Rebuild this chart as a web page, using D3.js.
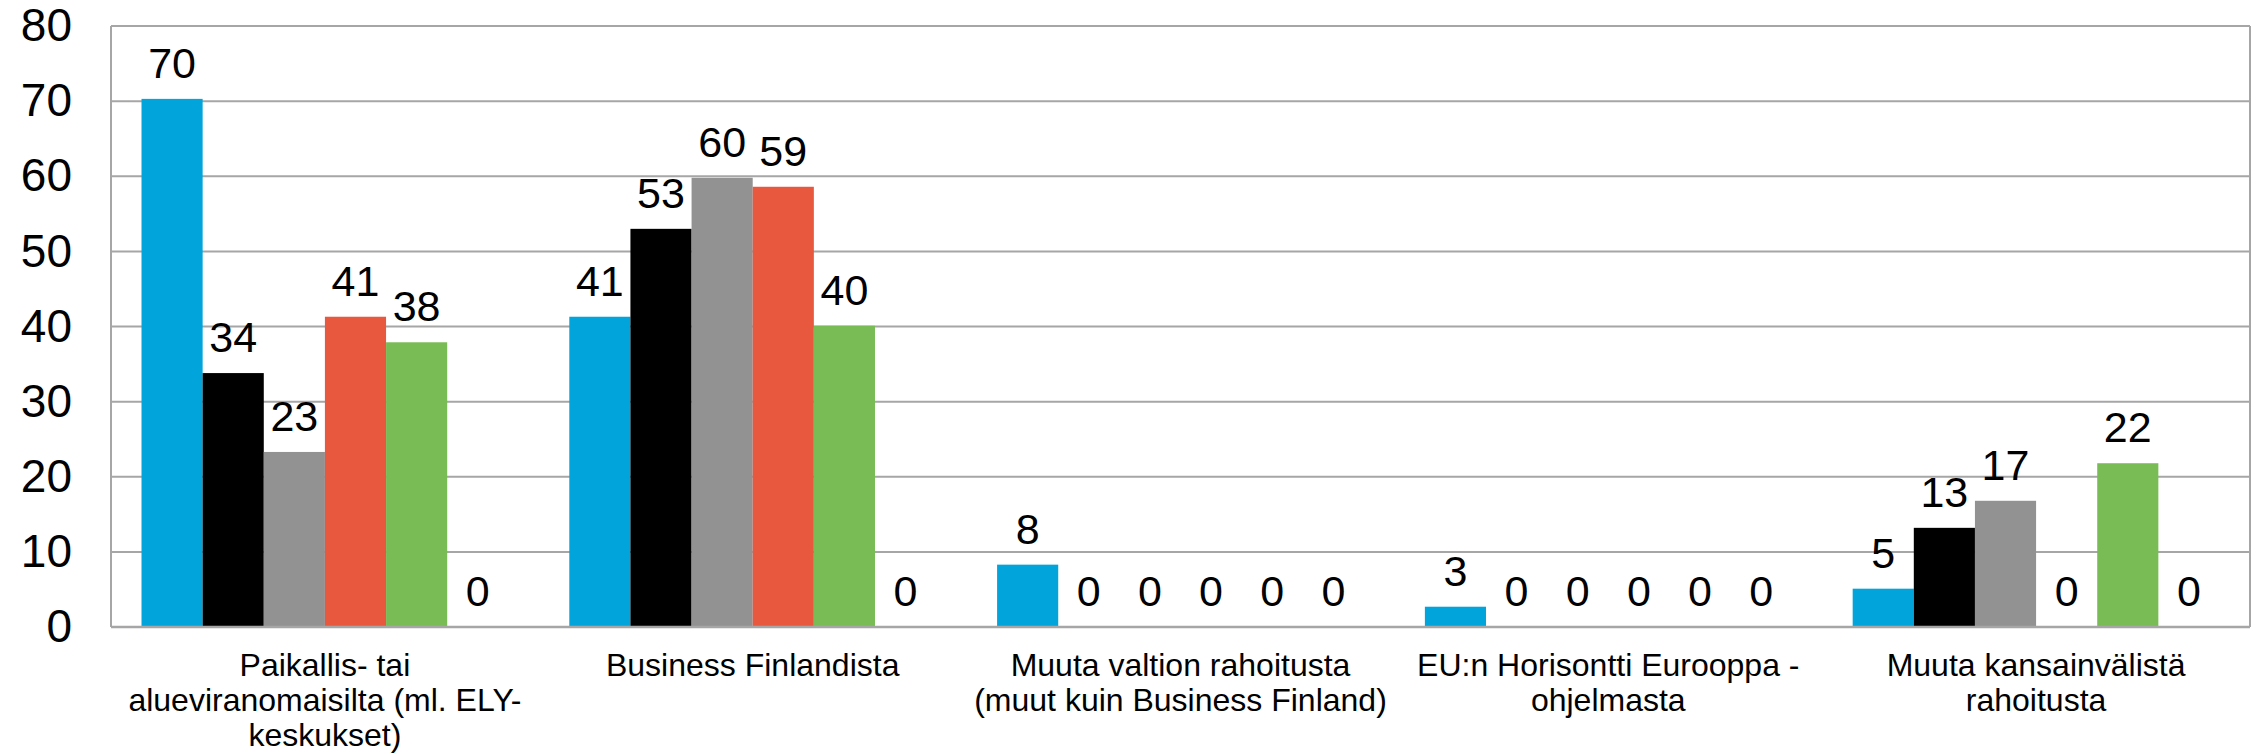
<!DOCTYPE html>
<html lang="fi">
<head>
  <meta charset="UTF-8">
  <title>Rahoituslähteet</title>
  <script src="https://d3js.org/d3.v7.min.js"></script>
  <style>
    html, body { margin: 0; padding: 0; background: #fff; }
    svg { display: block; font-family: "Liberation Sans", Arial, sans-serif; }
  </style>
</head>
<body>
<svg id="chart"></svg>
<script>
// categories (already broken into lines as in the original)
const categories = [
  ["Paikallis- tai", "alueviranomaisilta (ml. ELY-", "keskukset)"],
  ["Business Finlandista"],
  ["Muuta valtion rahoitusta", "(muut kuin Business Finland)"],
  ["EU:n Horisontti Eurooppa -", "ohjelmasta"],
  ["Muuta kansainvälistä", "rahoitusta"]
]
// six series, no legend in the picture
const seriesNames = ["Sarja 1", "Sarja 2", "Sarja 3", "Sarja 4", "Sarja 5", "Sarja 6"]
const seriesColors = ["#02a5db", "#000000", "#929292", "#e8583f", "#79bc55", "#ffffff"]
// one row per category, one value per series (labels show rounded values)
const values = [
  [70.3, 33.8, 23.3, 41.3, 37.9, 0],
  [41.3, 53.0, 59.8, 58.6, 40.1, 0],
  [8.3, 0, 0, 0, 0, 0],
  [2.7, 0, 0, 0, 0, 0],
  [5.1, 13.2, 16.8, 0, 21.8, 0]
]
const yTicks = [0, 10, 20, 30, 40, 50, 60, 70, 80]

const width = 2260, height = 754
const margin = {top: 26, right: 10, bottom: 127, left: 111}
const gridColor = "#a6a6a6"

const svg = d3.select("#chart").attr("width", width).attr("height", height)

const y = d3.scaleLinear().domain([0, 80]).range([height - margin.bottom, margin.top])

const x0 = d3.scaleBand()
  .domain(d3.range(categories.length))
  .range([margin.left, width - margin.right])
  .paddingInner(0.1425)
  .paddingOuter(0.0713)

const x1 = d3.scaleBand()
  .domain(d3.range(seriesNames.length))
  .range([0, x0.bandwidth()])

// gridlines
svg.append("g")
  .selectAll("line")
  .data(yTicks)
  .join("line")
    .attr("x1", margin.left)
    .attr("x2", width - margin.right)
    .attr("y1", d => y(d))
    .attr("y2", d => y(d))
    .attr("stroke", gridColor)
    .attr("stroke-width", 2)

// plot frame sides
svg.append("g")
  .selectAll("line")
  .data([margin.left, width - margin.right])
  .join("line")
    .attr("x1", d => d).attr("x2", d => d)
    .attr("y1", y(80)).attr("y2", y(0))
    .attr("stroke", gridColor)
    .attr("stroke-width", 2)

// y axis labels
const yAxis = d3.axisLeft(y).tickValues(yTicks).tickSize(0).tickPadding(0)
svg.append("g")
  .attr("transform", `translate(72,0)`)
  .call(yAxis)
  .call(g => g.select(".domain").remove())
  .call(g => g.selectAll("text")
    .attr("font-family", "Liberation Sans, Arial, sans-serif")
    .attr("font-size", "46px")
    .attr("fill", "#000"))

// bars
const groups = svg.append("g")
  .selectAll("g")
  .data(values)
  .join("g")
    .attr("transform", (d, i) => `translate(${x0(i)},0)`)

groups.selectAll("rect")
  .data(d => d.map((v, j) => ({v, j})))
  .join("rect")
    .attr("x", d => x1(d.j))
    .attr("width", x1.bandwidth())
    .attr("y", d => y(d.v))
    .attr("height", d => y(0) - y(d.v))
    .attr("fill", d => seriesColors[d.j])

// value labels
const fmt = d3.format(".0f")
groups.selectAll("text")
  .data(d => d.map((v, j) => ({v, j})))
  .join("text")
    .attr("x", d => x1(d.j) + x1.bandwidth() / 2)
    .attr("y", d => y(d.v) - 21)
    .attr("text-anchor", "middle")
    .attr("font-size", "43px")
    .attr("fill", "#000")
    .text(d => fmt(d.v))

// zero axis line on top of bars
svg.append("line")
  .attr("x1", margin.left).attr("x2", width - margin.right)
  .attr("y1", y(0)).attr("y2", y(0))
  .attr("stroke", gridColor)
  .attr("stroke-width", 2.5)

// category labels
const xLab = svg.append("g")
  .selectAll("text")
  .data(categories)
  .join("text")
    .attr("x", (d, i) => x0(i) + x0.bandwidth() / 2)
    .attr("y", 676)
    .attr("text-anchor", "middle")
    .attr("font-size", "32px")
    .attr("fill", "#000")

xLab.selectAll("tspan")
  .data(d => d)
  .join("tspan")
    .attr("x", function() { return d3.select(this.parentNode).attr("x") })
    .attr("dy", (d, i) => i === 0 ? 0 : 35)
    .text(d => d)
</script>
</body>
</html>
